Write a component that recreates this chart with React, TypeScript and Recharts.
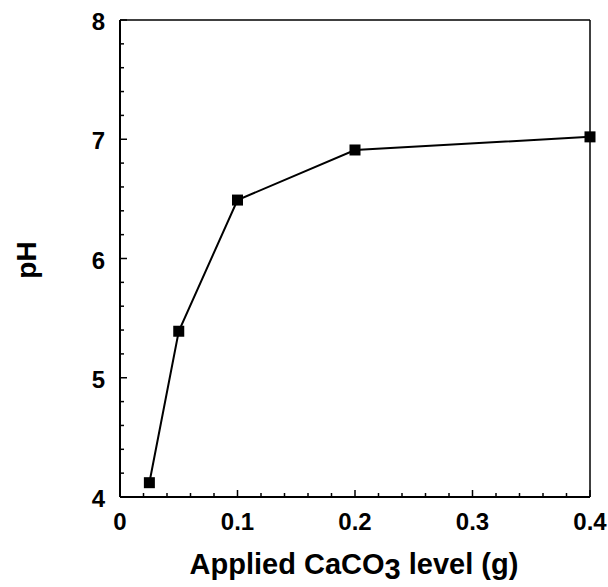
import React from 'react';
import { LineChart, Line, XAxis, YAxis, ReferenceLine, Label } from 'recharts';

const caco3Levels = [0.025, 0.05, 0.1, 0.2, 0.4];
const phValues = [4.12, 5.39, 6.49, 6.91, 7.02];

const xMajorTicks = [0, 0.1, 0.2, 0.3, 0.4];
const xAllTicks = [
  0, 0.02, 0.04, 0.06, 0.08, 0.1, 0.12, 0.14, 0.16, 0.18, 0.2,
  0.22, 0.24, 0.26, 0.28, 0.3, 0.32, 0.34, 0.36, 0.38, 0.4,
];
const yMajorTicks = [4, 5, 6, 7, 8];
const yAllTicks = [
  4, 4.2, 4.4, 4.6, 4.8, 5, 5.2, 5.4, 5.6, 5.8, 6,
  6.2, 6.4, 6.6, 6.8, 7, 7.2, 7.4, 7.6, 7.8, 8,
];

const data = caco3Levels.map((x, i) => ({ x, ph: phValues[i] }));

const FONT = '"Liberation Sans", Arial, Helvetica, sans-serif';

const isMajor = (list: number[], v: number) => list.some(t => Math.abs(t - v) < 1e-6);

const XTick = (props: any) => {
  const { x, y, payload } = props;
  const major = isMajor(xMajorTicks, payload.value);
  return (
    <g>
      <line x1={x} x2={x} y1={y} y2={y - (major ? 7 : 4)} stroke="#000" strokeWidth={1.5} />
      {major && (
        <text x={x} y={y + 33} textAnchor="middle" fontFamily={FONT} fontWeight="bold" fontSize={24} fill="#000">
          {String(payload.value)}
        </text>
      )}
    </g>
  );
};

const YTick = (props: any) => {
  const { x, y, payload } = props;
  const major = isMajor(yMajorTicks, payload.value);
  return (
    <g>
      <line x1={x} x2={x + (major ? 7 : 4)} y1={y} y2={y} stroke="#000" strokeWidth={1.5} />
      {major && (
        <text x={x - 15} y={y + 10} textAnchor="end" fontFamily={FONT} fontWeight="bold" fontSize={24} fill="#000">
          {String(payload.value)}
        </text>
      )}
    </g>
  );
};

const SquareDot = (props: any) => {
  const { cx, cy } = props;
  if (cx == null || cy == null) return null;
  return <rect x={cx - 5.5} y={cy - 5.5} width={11} height={11} fill="#000" />;
};

// x-axis title with the "3" dropped like a subscript
const XTitle = () => (
  <text x={354} y={574} textAnchor="middle" fontFamily={FONT} fontWeight="bold" fontSize={29} fill="#000">
    Applied CaCO<tspan dy={5}>3</tspan><tspan dy={-5}> level (g)</tspan>
  </text>
);

const YTitle = () => (
  <text x={36} y={260} textAnchor="middle" transform="rotate(-90, 36, 260)" fontFamily={FONT} fontWeight="bold" fontSize={28} fill="#000">
    pH
  </text>
);

export default function App() {
  return (
    <div style={{ position: 'absolute', left: 0, top: 0, width: 608, height: 587, background: '#fff' }}>
      <LineChart width={608} height={587} data={data} margin={{ top: 20, right: 18, left: 0, bottom: 0 }}>
        <XAxis
          dataKey="x"
          type="number"
          domain={[0, 0.4]}
          ticks={xAllTicks}
          interval={0}
          height={90}
          tickSize={0}
          tickMargin={0}
          tickLine={false}
          tick={<XTick />}
          axisLine={{ stroke: '#000', strokeWidth: 2 }}
        >
          <Label content={<XTitle />} />
        </XAxis>
        <YAxis
          type="number"
          domain={[4, 8]}
          ticks={yAllTicks}
          interval={0}
          width={120}
          tickSize={0}
          tickMargin={0}
          tickLine={false}
          tick={<YTick />}
          axisLine={{ stroke: '#000', strokeWidth: 2 }}
        >
          <Label content={<YTitle />} />
        </YAxis>
        <ReferenceLine y={8} stroke="#000" strokeWidth={1.5} />
        <ReferenceLine x={0.4} stroke="#000" strokeWidth={1.5} />
        <Line
          dataKey="ph"
          stroke="#000"
          strokeWidth={2}
          dot={<SquareDot />}
          activeDot={false}
          isAnimationActive={false}
        />
      </LineChart>
    </div>
  );
}
